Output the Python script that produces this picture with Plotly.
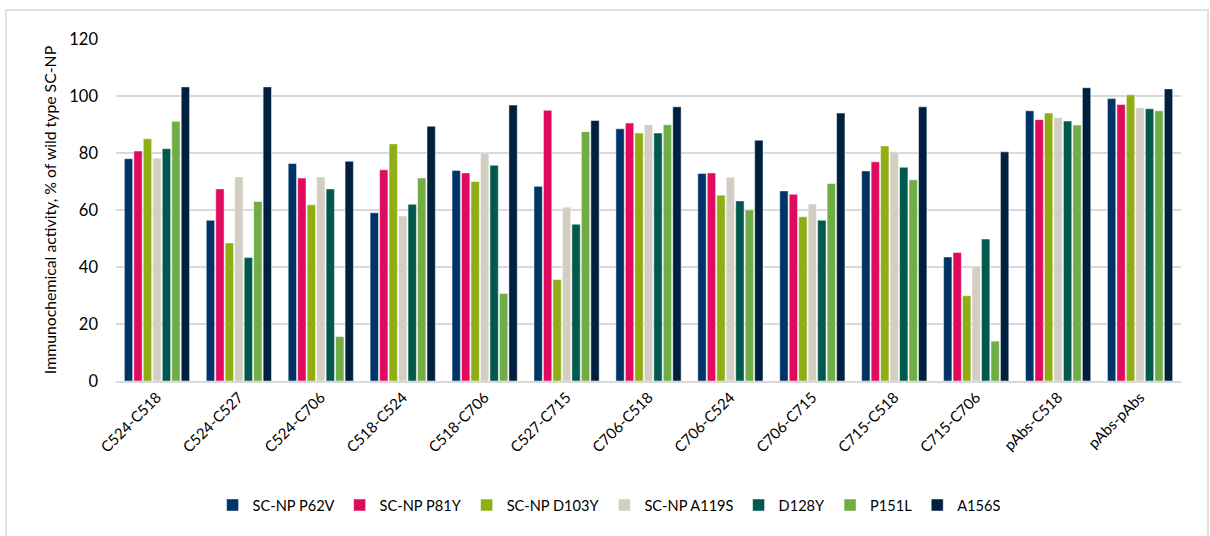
import plotly.graph_objects as go

categories = ["C524-C518", "C524-C527", "C524-C706", "C518-C524", "C518-C706", "C527-C715",
              "C706-C518", "C706-C524", "C706-C715", "C715-C518", "C715-C706", "pAbs-C518", "pAbs-pAbs"]

p62v = [78.0, 56.4, 76.3, 59.0, 73.9, 68.3, 88.5, 72.8, 66.7, 73.7, 43.5, 94.8, 99.1]
p81y = [80.7, 67.4, 71.2, 74.1, 73.0, 95.0, 90.5, 73.0, 65.5, 76.9, 45.1, 91.7, 97.0]
d103y = [85.0, 48.4, 61.8, 83.2, 70.0, 35.6, 87.0, 65.2, 57.6, 82.5, 29.9, 94.0, 100.4]
a119s = [78.2, 71.6, 71.6, 57.9, 80.0, 61.0, 89.9, 71.5, 62.1, 80.4, 40.3, 92.4, 95.9]
d128y = [81.5, 43.3, 67.4, 62.0, 75.7, 55.0, 87.0, 63.2, 56.4, 75.0, 49.8, 91.2, 95.5]
p151l = [91.1, 63.0, 15.6, 71.2, 30.7, 87.5, 89.9, 60.0, 69.3, 70.6, 14.0, 89.8, 94.8]
a156s = [103.2, 103.2, 77.1, 89.4, 96.8, 91.4, 96.2, 84.5, 94.0, 96.2, 80.4, 102.9, 102.5]

series = [
    ("SC-NP P62V", p62v, "#003366"),
    ("SC-NP P81Y", p81y, "#E00B5E"),
    ("SC-NP D103Y", d103y, "#8FAD15"),
    ("SC-NP A119S", a119s, "#D3CEC1"),
    ("D128Y", d128y, "#00594C"),
    ("P151L", p151l, "#70AD47"),
    ("A156S", a156s, "#002040"),
]

fig = go.Figure()
for name, vals, color in series:
    fig.add_trace(go.Bar(
        x=categories, y=vals, name=name,
        marker=dict(color=color, line=dict(color="rgba(255,255,255,0.8)", width=0.6)),
    ))

font_family = "Lato, 'Open Sans', sans-serif"
fig.update_layout(
    width=1210, height=536,
    margin=dict(l=116, r=29, t=39, b=155),
    paper_bgcolor="white", plot_bgcolor="white",
    barmode="group", bargap=0.19, bargroupgap=0.12,
    font=dict(family=font_family, color="#000000", size=14),
    showlegend=True,
    legend=dict(orientation="h", x=0.463, xanchor="center", y=-0.3626, yanchor="middle",
                font=dict(size=14.6), itemwidth=30, traceorder="normal", itemclick=False),
    xaxis=dict(tickangle=-45, showgrid=False, showline=True, linecolor="#D9D9D9", linewidth=1.5,
               tickfont=dict(size=15), ticks=""),
    yaxis=dict(range=[0, 120], dtick=20, showgrid=True, gridcolor="#D9D9D9", gridwidth=1.5,
               zeroline=False, showline=False, tickfont=dict(size=16.5), ticks="",
               ticklabelstandoff=17,
               title=dict(text="Immunochemical activity, % of wild type SC-NP", font=dict(size=15.8), standoff=8)),
    shapes=[dict(type="rect", xref="paper", yref="paper",
                 x0=-0.1033, x1=1.0254, y0=-0.46, y1=1.0848,
                 line=dict(color="#D9D9D9", width=1.5), fillcolor="rgba(0,0,0,0)", layer="below")],
)

fig.write_html("out.html", config={"displayModeBar": False},
               post_script="document.body.style.margin='0px';document.body.style.padding='0px';")
